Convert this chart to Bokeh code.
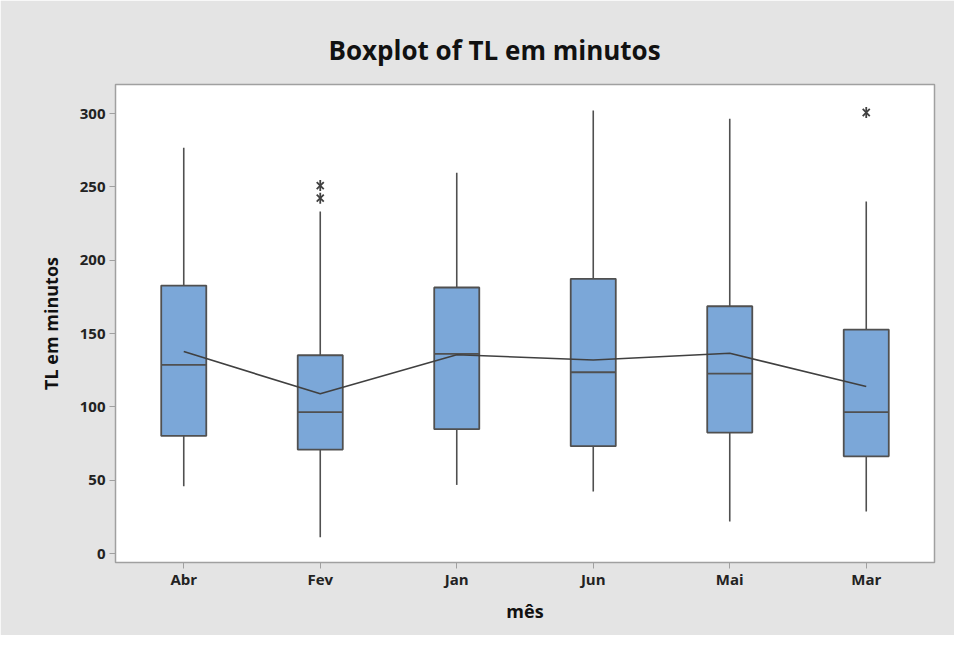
import math
from bokeh.plotting import figure
from bokeh.models import Range1d, FactorRange, ColumnDataSource
from bokeh.embed import file_html
from bokeh.resources import INLINE

months = ["Abr", "Fev", "Jan", "Jun", "Mai", "Mar"]
q1 = [80.2, 70.9, 84.8, 73.2, 82.5, 66.3]
median = [128.6, 96.4, 136.2, 123.6, 122.7, 96.4]
q3 = [182.7, 135.2, 181.4, 187.3, 168.6, 152.7]
whisker_low = [45.9, 11.1, 46.8, 42.3, 21.8, 28.6]
whisker_high = [276.6, 233.2, 259.6, 302.0, 296.4, 240.0]
means = [137.7, 108.9, 135.5, 132.0, 136.6, 113.9]
outlier_month = ["Fev", "Fev", "Mar"]
outlier_value = [250.9, 242.3, 300.7]
y_ticks = [0, 50, 100, 150, 200, 250, 300]

FONT = "Open Sans"
BG = "#e4e4e4"
EDGE = "#505050"

p = figure(width=954, height=635, x_range=FactorRange(*months, range_padding=0),
           y_range=Range1d(-6.1, 319.8), output_backend="svg", toolbar_location=None,
           min_border_left=115, min_border_right=20, min_border_top=84, min_border_bottom=73,
           title="Boxplot of TL em minutos")
p.background_fill_color = "white"
p.border_fill_color = BG
p.outline_line_color = "#a0a0a0"
p.outline_line_width = 1.5
p.xgrid.visible = False
p.ygrid.visible = False

p.title.align = "left"
p.title.offset = 213
p.title.text_font = FONT
p.title.text_font_size = "26px"
p.title.text_font_style = "bold"
p.title.text_color = "#111111"
p.title.standoff = 34

src = ColumnDataSource(dict(m=months, q1=q1, med=median, q3=q3, lo=whisker_low, hi=whisker_high, mean=means))

p.segment(x0="m", y0="q3", x1="m", y1="hi", source=src, line_color=EDGE, line_width=1.6)
p.segment(x0="m", y0="lo", x1="m", y1="q1", source=src, line_color=EDGE, line_width=1.6)
p.vbar(x="m", width=0.33, bottom="q1", top="q3", source=src, fill_color="#7ba7d8",
       line_color=EDGE, line_width=1.8)
p.vbar(x="m", width=0.33, bottom="med", top="med", source=src, fill_color=None,
       line_color=EDGE, line_width=1.8)
p.line(x="m", y="mean", source=src, line_color="#404040", line_width=1.6)
p.scatter(x=outlier_month, y=outlier_value, marker="x", size=10,
          line_color="#404040", line_width=1.8)
p.scatter(x=outlier_month, y=outlier_value, marker="dash", size=11, angle=math.pi / 2,
          line_color="#404040", line_width=1.8)

p.yaxis.ticker = y_ticks
for ax in (p.xaxis[0], p.yaxis[0]):
    ax.axis_line_color = "#a0a0a0"
    ax.major_tick_line_color = "#a0a0a0"
    ax.major_tick_out = 6
    ax.major_tick_in = 0
    ax.minor_tick_line_color = None
    ax.major_label_text_font = FONT
    ax.major_label_text_font_size = "15px"
    ax.major_label_text_font_style = "bold"
    ax.major_label_text_color = "#222222"
    ax.axis_label_text_font = FONT
    ax.axis_label_text_font_size = "18px"
    ax.axis_label_text_font_style = "bold"
    ax.axis_label_text_color = "#111111"
p.xaxis.axis_label = "mês"
p.yaxis.axis_label = "TL em minutos"
p.xaxis.major_label_standoff = 0
p.xaxis.axis_label_standoff = 7
p.yaxis.axis_label_standoff = 14
p.yaxis.major_label_standoff = 4

open("out.html", "w").write(file_html(p, INLINE))
